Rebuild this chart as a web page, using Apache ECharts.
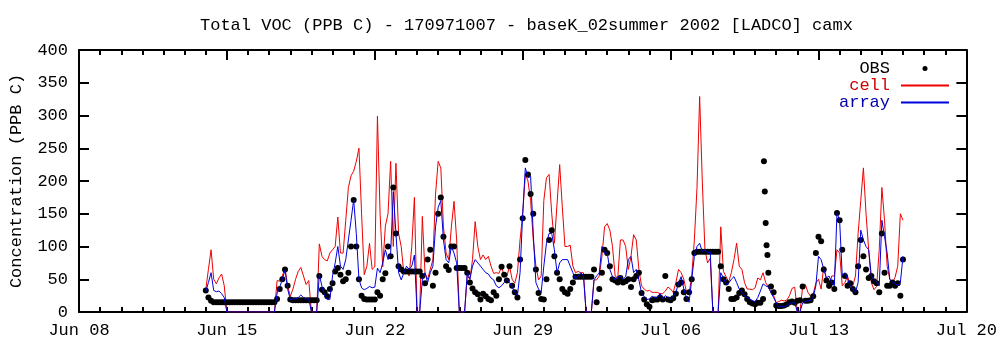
<!DOCTYPE html>
<html>
<head>
<meta charset="utf-8">
<script src="https://cdn.jsdelivr.net/npm/echarts@6/dist/echarts.min.js"></script>
<style>
html,body{margin:0;padding:0;background:#fff;}
#chart{width:1000px;height:347px;}
</style>
</head>
<body>
<div id="chart"></div>
<script>
// x axis in days since Jun 08 2002
const xTickLabels = ['Jun 08','Jun 15','Jun 22','Jun 29','Jul 06','Jul 13','Jul 20'];
const startDay = 6;        // Jun 14 00:00
const stepDays = 0.125;    // 3-hourly values

// cell (red), 3-hourly from Jun 14 00h to Jul 17 00h
const cellVals = [
 34,65,95,50,43,52,58,40,
 0,0,0,0,0,0,0,0,
 0,0,0,0,0,0,0,0,
 0,0,0,48,47,55,67,40,
 24,35,50,62,68,55,42,48,
 0,0,0,104,85,80,78,90,
 95,100,145,90,90,140,190,208,
 215,230,250,150,57,70,105,65,
 69,299,150,69,131,150,230,100,
 227,120,100,59,64,55,100,175,
 0,0,146,60,50,65,80,180,
 230,220,130,90,80,130,169,110,
 0,0,0,55,50,80,138,100,
 80,87,80,85,70,59,60,59,
 69,55,54,70,50,44,60,110,
 150,210,200,170,110,70,49,55,
 170,205,210,150,105,165,225,160,
 100,100,102,70,60,62,60,60,
 0,0,0,49,49,55,85,130,
 135,125,100,55,52,110,110,100,
 65,85,118,110,65,40,35,32,
 33,30,30,30,28,28,32,38,
 35,30,45,65,60,50,30,28,
 55,110,190,329,200,95,75,82,
 0,0,0,130,62,54,46,60,
 80,105,70,65,45,35,35,34,
 37,52,49,60,45,38,30,25,
 14,16,18,17,18,25,36,38,
 0,0,39,42,30,24,28,44,
 50,35,70,50,35,55,55,95,
 90,40,45,55,40,40,55,120,
 170,220,150,95,45,34,39,95,
 190,140,70,50,45,53,70,150,
 140
];

// array (blue)
const arrayVals = [
 31,45,60,33,31,32,28,22,
 0,0,0,0,0,0,0,0,
 0,0,0,0,0,0,0,0,
 0,0,0,29,38,50,64,35,
 19,20,20,22,26,22,20,20,
 0,0,0,57,39,25,19,19,
 55,75,100,70,65,80,110,140,
 171,120,50,37,34,36,39,37,
 38,67,60,75,95,80,90,184,
 120,60,49,60,70,65,70,87,
 0,0,49,60,45,60,70,130,
 160,170,110,80,75,100,90,75,
 0,0,0,60,50,70,80,75,
 70,65,60,58,52,49,40,37,
 40,45,50,45,38,30,25,60,
 150,220,205,207,120,45,35,30,
 70,105,120,120,95,60,75,80,
 80,80,70,60,50,55,60,55,
 0,0,0,49,55,60,100,90,
 90,65,54,49,54,54,50,54,
 80,85,60,65,49,29,24,19,
 20,24,22,22,28,20,25,22,
 20,24,30,44,54,35,22,15,
 50,85,100,105,92,95,90,92,
 0,0,0,60,52,42,44,50,
 54,45,35,30,25,22,20,17,
 16,22,32,43,40,38,30,22,
 14,8,8,8,10,13,14,14,
 0,0,14,16,17,18,22,40,
 85,80,65,52,55,45,40,151,
 140,55,60,50,40,35,30,45,
 125,110,100,95,55,50,45,40,
 140,115,90,50,45,44,40,45,
 85
];

// OBS (black dots)
const obsVals = [
 33,22,17,15,15,15,15,15,
 15,15,15,15,15,15,15,15,
 15,15,15,15,15,15,15,15,
 15,15,15,20,35,50,65,40,
 19,18,18,18,18,18,18,18,
 18,18,18,55,34,30,24,35,
 44,62,67,57,47,50,60,100,
 171,100,50,25,20,19,19,19,
 19,30,25,50,59,100,85,190,
 120,70,65,62,62,62,62,62,
 62,62,55,44,80,95,40,60,
 150,175,115,70,64,100,100,67,
 67,67,67,60,45,36,30,27,
 19,28,24,20,18,30,25,50,
 69,57,48,70,40,30,22,80,
 143,232,210,180,150,65,29,20,
 19,50,110,125,85,60,50,35,
 30,28,35,45,54,54,54,54,
 54,54,54,65,15,35,60,95,
 90,70,50,48,45,52,45,47,
 50,38,50,55,60,29,19,12,
 8,18,19,19,22,19,55,19,
 18,21,28,42,45,30,20,30,
 50,90,92,92,92,92,92,92,
 92,92,92,70,50,45,35,20,
 20,22,29,33,27,20,15,13,
 12,14,14,20,null,null,39,30,
 10,9,9,10,12,15,16,14,
 17,18,39,17,17,18,24,90,
 115,108,65,48,40,45,35,151,
 140,95,55,40,44,35,30,70,
 110,85,65,52,55,47,44,30,
 120,60,40,40,45,40,44,25,
 80
];
// hourly OBS burst on Jul 10 (day 32), 10h-15h
const obsBurstDay = 32;
const obsBurstHours = [10,11,12,13,14,15];
const obsBurstVals = [230,184,136,102,87,60];

function pairs(vals){ return vals.map((v,i)=>[startDay + i*stepDays, v]); }
const obsData = pairs(obsVals).filter(p=>p[1]!==null)
  .concat(obsBurstHours.map((h,i)=>[obsBurstDay + h/24, obsBurstVals[i]]));

const FONT = 'Liberation Mono';
const hiddenSym = {color:'rgba(0,0,0,0)', borderWidth:0, opacity:0};
const tickLine = {color:'#000', width:2};

const chart = echarts.init(document.getElementById('chart'), null, {renderer:'canvas'});
chart.setOption({
  animation:false,
  backgroundColor:'#fff',
  title:{
    text:'Total VOC (PPB C) - 170971007 - baseK_02summer 2002 [LADCO] camx',
    left:195, top:12,
    textStyle:{fontFamily:FONT, fontSize:17, fontWeight:'normal', color:'#000'}
  },
  grid:{left:78, right:30, top:50, bottom:35},
  legend:{
    orient:'vertical', right:50, top:60, padding:0, itemGap:0,
    itemWidth:48, itemHeight:5, align:'right',
    textStyle:{fontFamily:FONT, fontSize:17, lineHeight:17, padding:[0,6,0,0]},
    data:[
      {name:'OBS', icon:'circle', textStyle:{color:'#000'}},
      {name:'cell', itemStyle:hiddenSym, textStyle:{color:'#d00000'}},
      {name:'array', itemStyle:hiddenSym, textStyle:{color:'#0000b0'}}
    ]
  },
  xAxis:[
    {type:'value', min:0, max:42, interval:7, position:'bottom',
     axisLine:{show:true, lineStyle:{color:'#000', width:2}},
     axisTick:{show:true, length:-5, lineStyle:tickLine},
     minorTick:{show:true, splitNumber:7, length:-5, lineStyle:tickLine},
     splitLine:{show:false},
     axisLabel:{show:true, margin:10, fontFamily:FONT, fontSize:17, color:'#000',
       formatter:(v)=>xTickLabels[Math.round(v/7)] || ''}},
    {type:'value', min:0, max:42, interval:7, position:'top',
     axisLine:{show:true, onZero:false, lineStyle:{color:'#000', width:2}},
     axisTick:{show:true, length:-10, lineStyle:tickLine},
     minorTick:{show:true, splitNumber:7, length:-5, lineStyle:tickLine},
     splitLine:{show:false}, axisLabel:{show:false}}
  ],
  yAxis:[
    {type:'value', min:0, max:400, interval:50, position:'left',
     axisLine:{show:true, lineStyle:{color:'#000', width:2}},
     axisTick:{show:true, length:-10, lineStyle:tickLine},
     splitLine:{show:false},
     name:'Concentration (PPB C)', nameLocation:'middle', nameGap:54, nameRotate:90,
     nameTextStyle:{fontFamily:FONT, fontSize:17, color:'#000'},
     axisLabel:{show:true, margin:11, fontFamily:FONT, fontSize:17, color:'#000'}},
    {type:'value', min:0, max:400, interval:50, position:'right',
     axisLine:{show:true, onZero:false, lineStyle:{color:'#000', width:2}},
     axisTick:{show:true, length:-10, lineStyle:tickLine},
     splitLine:{show:false}, axisLabel:{show:false}}
  ],
  series:[
    {name:'cell', type:'line', xAxisIndex:0, yAxisIndex:0, data:pairs(cellVals),
     showSymbol:false, symbol:'none', z:2,
     lineStyle:{color:'#ee0000', width:1}, itemStyle:{color:'#ee0000'}},
    {name:'OBS', type:'scatter', xAxisIndex:0, yAxisIndex:0, data:obsData,
     symbol:'circle', symbolSize:6, z:3, itemStyle:{color:'#000', opacity:1}},
    {name:'array', type:'line', xAxisIndex:0, yAxisIndex:0, data:pairs(arrayVals),
     showSymbol:false, symbol:'none', z:4,
     lineStyle:{color:'#0000dd', width:1}, itemStyle:{color:'#0000dd'}}
  ]
});
</script>
</body>
</html>
